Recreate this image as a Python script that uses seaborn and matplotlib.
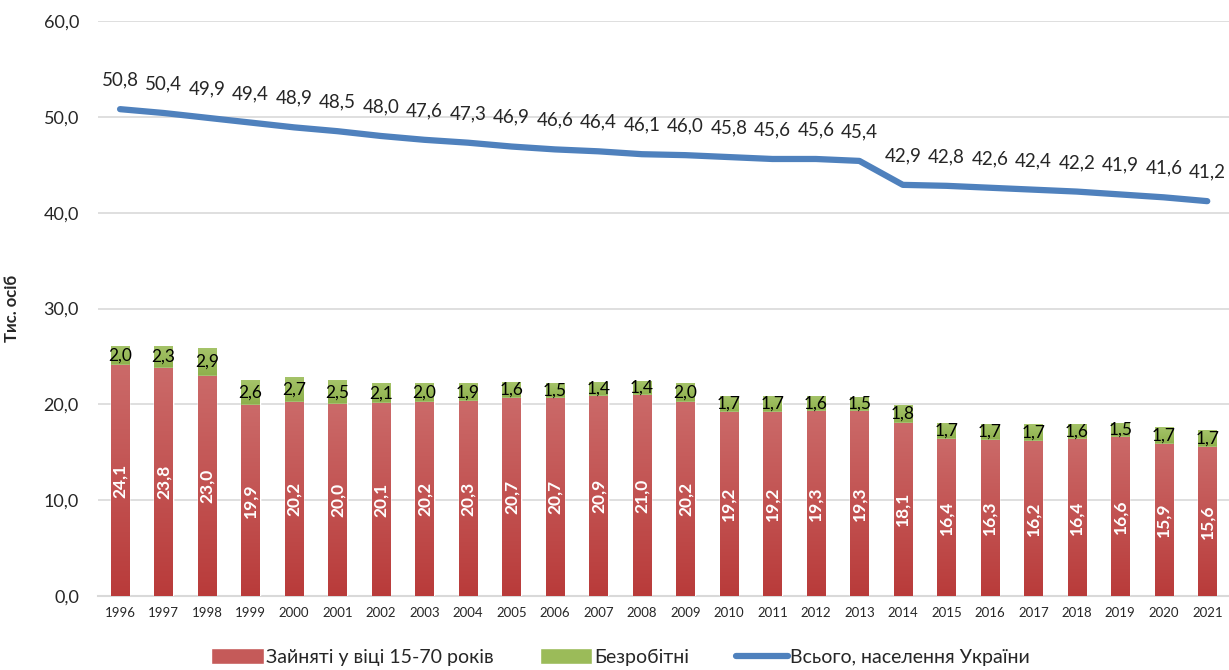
import numpy as np
import pandas as pd
import matplotlib
matplotlib.use("Agg")
import matplotlib.pyplot as plt
import seaborn as sns
from matplotlib.patches import Patch
from matplotlib.lines import Line2D
from matplotlib.colors import LinearSegmentedColormap

years = [str(y) for y in range(1996, 2022)]
population = [50.8, 50.4, 49.9, 49.4, 48.9, 48.5, 48.0, 47.6, 47.3, 46.9, 46.6, 46.4, 46.1,
              46.0, 45.8, 45.6, 45.6, 45.4, 42.9, 42.8, 42.6, 42.4, 42.2, 41.9, 41.6, 41.2]
employed = [24.1, 23.8, 23.0, 19.9, 20.2, 20.0, 20.1, 20.2, 20.3, 20.7, 20.7, 20.9, 21.0,
            20.2, 19.2, 19.2, 19.3, 19.3, 18.1, 16.4, 16.3, 16.2, 16.4, 16.6, 15.9, 15.6]
unemployed = [2.0, 2.3, 2.9, 2.6, 2.7, 2.5, 2.1, 2.0, 1.9, 1.6, 1.5, 1.4, 1.4,
              2.0, 1.7, 1.7, 1.6, 1.5, 1.8, 1.7, 1.7, 1.7, 1.6, 1.5, 1.7, 1.7]

df = pd.DataFrame({"year": years, "employed": employed, "unemployed": unemployed,
                   "population": population})
df["total"] = df["employed"] + df["unemployed"]
df["pos"] = np.arange(len(df))

sns.set_style("white")
plt.rcParams["font.family"] = ["Lato", "DejaVu Sans"]

def fmt(v):
    return f"{v:.1f}".replace(".", ",")

red = "#C0504D"
green = "#9BBB59"
blue = "#4F81BD"

fig = plt.figure(figsize=(12.29, 6.70), dpi=100)
ax = fig.add_axes([0.08, 0.1104, 0.92, 0.8583])

# stacked bars: total in green, employed in red on top of it
sns.barplot(data=df, x="year", y="total", color=green, width=0.42,
            saturation=1, ax=ax, zorder=2)
n_green = len(ax.patches)
sns.barplot(data=df, x="year", y="employed", color=red, width=0.42,
            saturation=1, ax=ax, zorder=3)

# gradient fill on the bars (lighter top, darker bottom)
cmap = LinearSegmentedColormap.from_list("redgrad", ["#B93B3A", "#CB6A69"])
grad = np.linspace(0, 1, 256).reshape(-1, 1)
for p in ax.patches[n_green:]:
    x0, y0 = p.get_x(), p.get_y()
    w, h = p.get_width(), p.get_height()
    im = ax.imshow(grad, cmap=cmap, aspect="auto", origin="lower",
                   extent=(x0, x0 + w, y0, y0 + h), zorder=3.5)
    im.set_clip_path(p)

cmap_g = LinearSegmentedColormap.from_list("greengrad", ["#8DB04C", "#A6C46A"])
for p, e in zip(ax.patches[:n_green], employed):
    x0 = p.get_x()
    w, h = p.get_width(), p.get_height()
    im = ax.imshow(grad, cmap=cmap_g, aspect="auto", origin="lower",
                   extent=(x0, x0 + w, e, h), zorder=2.5)
    im.set_clip_path(p)

sns.lineplot(data=df, x="pos", y="population", color=blue, linewidth=4.5,
             solid_capstyle="round", ax=ax, zorder=4)

for i, row in df.iterrows():
    ax.text(i, row["employed"] / 2, fmt(row["employed"]), rotation=90,
            ha="center", va="center", color="white", fontsize=12.5,
            fontweight="bold", zorder=5)
    ax.text(i, row["employed"] + row["unemployed"] / 2, fmt(row["unemployed"]),
            ha="center", va="center", color="black", fontsize=12.5, zorder=5)
    ax.annotate(fmt(row["population"]), (i, row["population"]),
                xytext=(0, 21), textcoords="offset points",
                ha="center", va="center", fontsize=13.5, zorder=5)

ax.set_xlim(-0.5, len(df) - 0.5)
ax.set_ylim(0, 60)
ax.set_yticks(np.arange(0, 61, 10))
ax.set_yticklabels([fmt(v) for v in np.arange(0, 61, 10)], fontsize=13)
ax.set_xticks(df["pos"])
ax.set_xticklabels(years, fontsize=9.5)
ax.tick_params(axis="y", length=0, pad=14)
ax.tick_params(axis="x", length=0, pad=8)
ax.yaxis.grid(True, color="#D9D9D9", linewidth=1.2, zorder=0)
ax.set_axisbelow(True)
for s in ["top", "right", "left"]:
    ax.spines[s].set_visible(False)
ax.spines["bottom"].set_color("#D9D9D9")
ax.spines["bottom"].set_linewidth(1.5)
ax.set_xlabel("")
ax.set_ylabel("Тис. осіб", fontsize=12, fontweight="bold")
ax.yaxis.set_label_coords(-0.069, 0.5)

handles = [Patch(facecolor="#C55A59", label="Зайняті у віці 15-70 років"),
           Patch(facecolor="#9BBB59", label="Безробітні"),
           Line2D([0], [0], color=blue, linewidth=4.5, solid_capstyle="round",
                  label="Всього, населення України")]
fig.legend(handles=handles, loc="lower center", ncol=3, frameon=False,
           bbox_to_anchor=(0.505, -0.02), fontsize=14, handlelength=2.7,
           handleheight=0.9, columnspacing=2.4, handletextpad=0.1)

fig.savefig("out.png", dpi=100)
